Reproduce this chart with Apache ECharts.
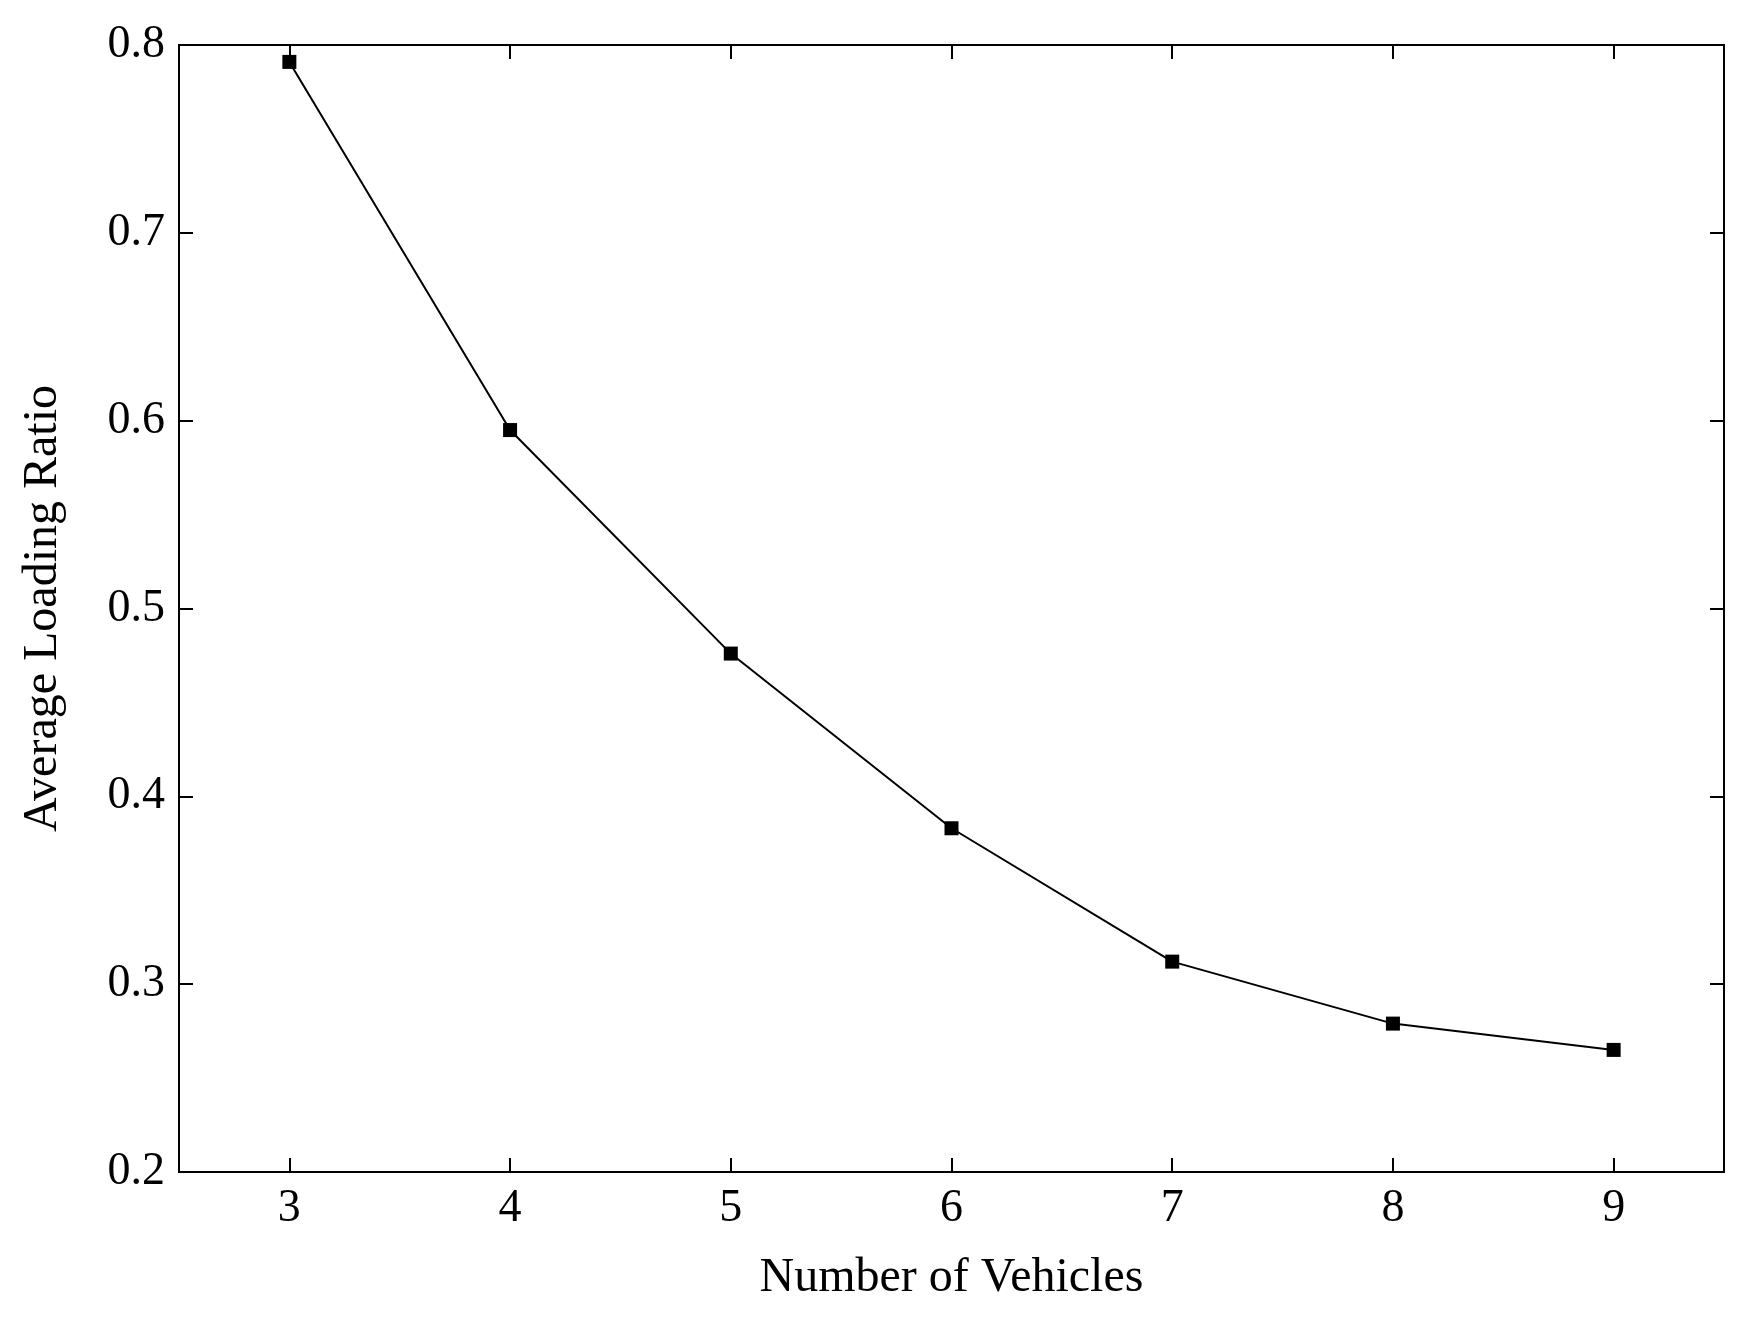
<!DOCTYPE html>
<html><head><meta charset="utf-8">
<script src="https://cdn.jsdelivr.net/npm/echarts@6/dist/echarts.min.js"></script>
<style>html,body{margin:0;background:#fff}#c{width:1744px;height:1323px}</style>
</head><body><div id="c"></div>
<script>
const vehicles = [3, 4, 5, 6, 7, 8, 9];
const loadingRatio = [0.791, 0.595, 0.476, 0.383, 0.312, 0.279, 0.265];
const xTicks = [3, 4, 5, 6, 7, 8, 9];
const font = 'Liberation Serif';
const chart = echarts.init(document.getElementById('c'));
const axLine = {show:true, lineStyle:{color:'#000', width:2}};
const tick = {show:true, inside:true, length:14, lineStyle:{color:'#000',width:2}};
chart.setOption({
  animation:false,
  grid:{left:179, right:20, top:45, bottom:151, show:true, borderColor:'#000', borderWidth:2, backgroundColor:'transparent'},
  xAxis:[{type:'value', min:2.5, max:9.5, name:'Number of Vehicles', nameLocation:'middle', nameGap:82,
    nameTextStyle:{fontFamily:font, fontSize:48, color:'#000'},
    axisLine:axLine, axisTick:Object.assign({customValues:xTicks}, tick),
    axisLabel:{customValues:xTicks, fontFamily:font, fontSize:46, color:'#000', margin:14},
    splitLine:{show:false}},
    {type:'value', position:'top', min:2.5, max:9.5, axisLine:axLine, axisTick:Object.assign({customValues:xTicks}, tick), axisLabel:{show:false}, splitLine:{show:false}}],
  yAxis:[{type:'value', min:0.2, max:0.8, interval:0.1, name:'Average Loading Ratio', nameLocation:'middle', nameGap:112,
    nameTextStyle:{fontFamily:font, fontSize:48, color:'#000'},
    axisLine:axLine, axisTick:tick,
    axisLabel:{fontFamily:font, fontSize:46, color:'#000', margin:14, formatter:v=>v.toFixed(1)},
    splitLine:{show:false}},
    {type:'value', position:'right', min:0.2, max:0.8, interval:0.1, axisLine:axLine, axisTick:tick, axisLabel:{show:false}, splitLine:{show:false}}],
  series:[{type:'line', data:vehicles.map((v,i)=>[v, loadingRatio[i]]), symbol:'rect', symbolSize:14,
    lineStyle:{color:'#000', width:2}, itemStyle:{color:'#000'}}]
});
</script></body></html>
